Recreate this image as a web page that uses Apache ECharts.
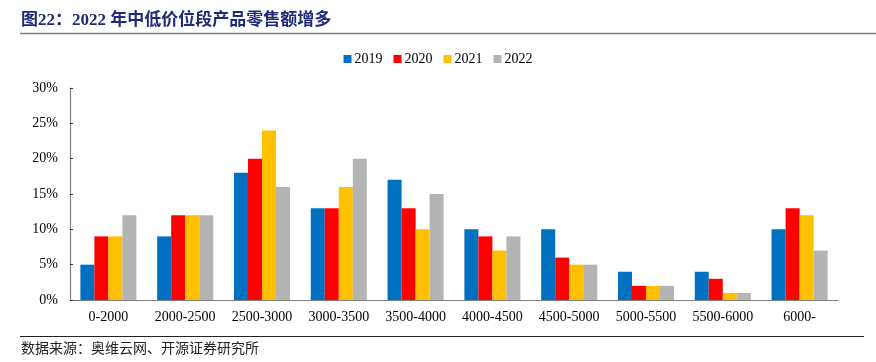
<!DOCTYPE html>
<html><head><meta charset="utf-8">
<script src="https://cdn.jsdelivr.net/npm/echarts@6/dist/echarts.min.js"></script>
<style>html,body{margin:0;padding:0;background:#fff}#c{width:876px;height:362px}</style>
</head><body><div id="c"></div>
<script>
const categories = ['0-2000','2000-2500','2500-3000','3000-3500','3500-4000','4000-4500','4500-5000','5000-5500','5500-6000','6000-'];
const seriesNames = ['2019','2020','2021','2022'];
const s2019 = [5, 9, 18, 13, 17, 10, 10, 4, 4, 10];
const s2020 = [9, 12, 20, 13, 13, 9, 6, 2, 3, 13];
const s2021 = [9, 12, 24, 16, 10, 7, 5, 2, 1, 12];
const s2022 = [12, 12, 16, 20, 15, 9, 5, 2, 1, 7];
const colors = ['#0070C0', '#FF0000', '#FFC000', '#B4B4B4'];
const titleText = '图22：2022 年中低价位段产品零售额增多';
const sourceText = '数据来源：奥维云网、开源证券研究所';

const serif = '"Liberation Serif","DejaVu Serif",serif';
const cjk = '"Liberation Serif","Noto Sans CJK SC",serif';
const data = [s2019, s2020, s2021, s2022];
const chart = echarts.init(document.getElementById('c'));
chart.setOption({
  animation: false,
  color: colors,
  graphic: [
    { type: 'text', left: 21, top: 12, style: { text: titleText, font: 'bold 17px ' + cjk, fill: '#1F2A78' } },
    { type: 'line', shape: { x1: 20, y1: 33.5, x2: 876, y2: 33.5 }, style: { stroke: '#808080', lineWidth: 1.5 } },
    { type: 'line', shape: { x1: 20, y1: 336.5, x2: 864, y2: 336.5 }, style: { stroke: '#222', lineWidth: 1.2 } },
    { type: 'text', left: 21, top: 342, style: { text: sourceText, font: '14px ' + cjk, fill: '#222', letterSpacing: 1 } }
  ],
  legend: {
    top: 47, left: 'center', itemWidth: 8, itemHeight: 8, itemGap: 11,
    icon: 'rect',
    textStyle: { fontFamily: serif, fontSize: 14, color: '#000', padding: [0, 0, 0, -2] },
    data: seriesNames
  },
  grid: { left: 70, right: 38, top: 88, bottom: 62 },
  xAxis: {
    type: 'category', data: categories,
    axisLine: { lineStyle: { color: '#808080', width: 1.2 } },
    axisTick: { inside: true, length: 4, lineStyle: { color: '#333' } },
    axisLabel: { fontFamily: serif, fontSize: 14, color: '#000', margin: 10, interval: 0 }
  },
  yAxis: {
    type: 'value', min: 0, max: 30, interval: 5,
    axisLine: { show: true, lineStyle: { color: '#808080', width: 1.2 } },
    axisTick: { show: true, inside: true, length: 3, lineStyle: { color: '#333' } },
    splitLine: { show: false },
    axisLabel: { fontFamily: serif, fontSize: 14, color: '#000', margin: 12, formatter: v => v + '%' }
  },
  series: seriesNames.map((n, i) => ({
    name: n, type: 'bar', data: data[i],
    barGap: '0%', barCategoryGap: '27%',
    itemStyle: { color: colors[i] }
  }))
});
</script></body></html>
